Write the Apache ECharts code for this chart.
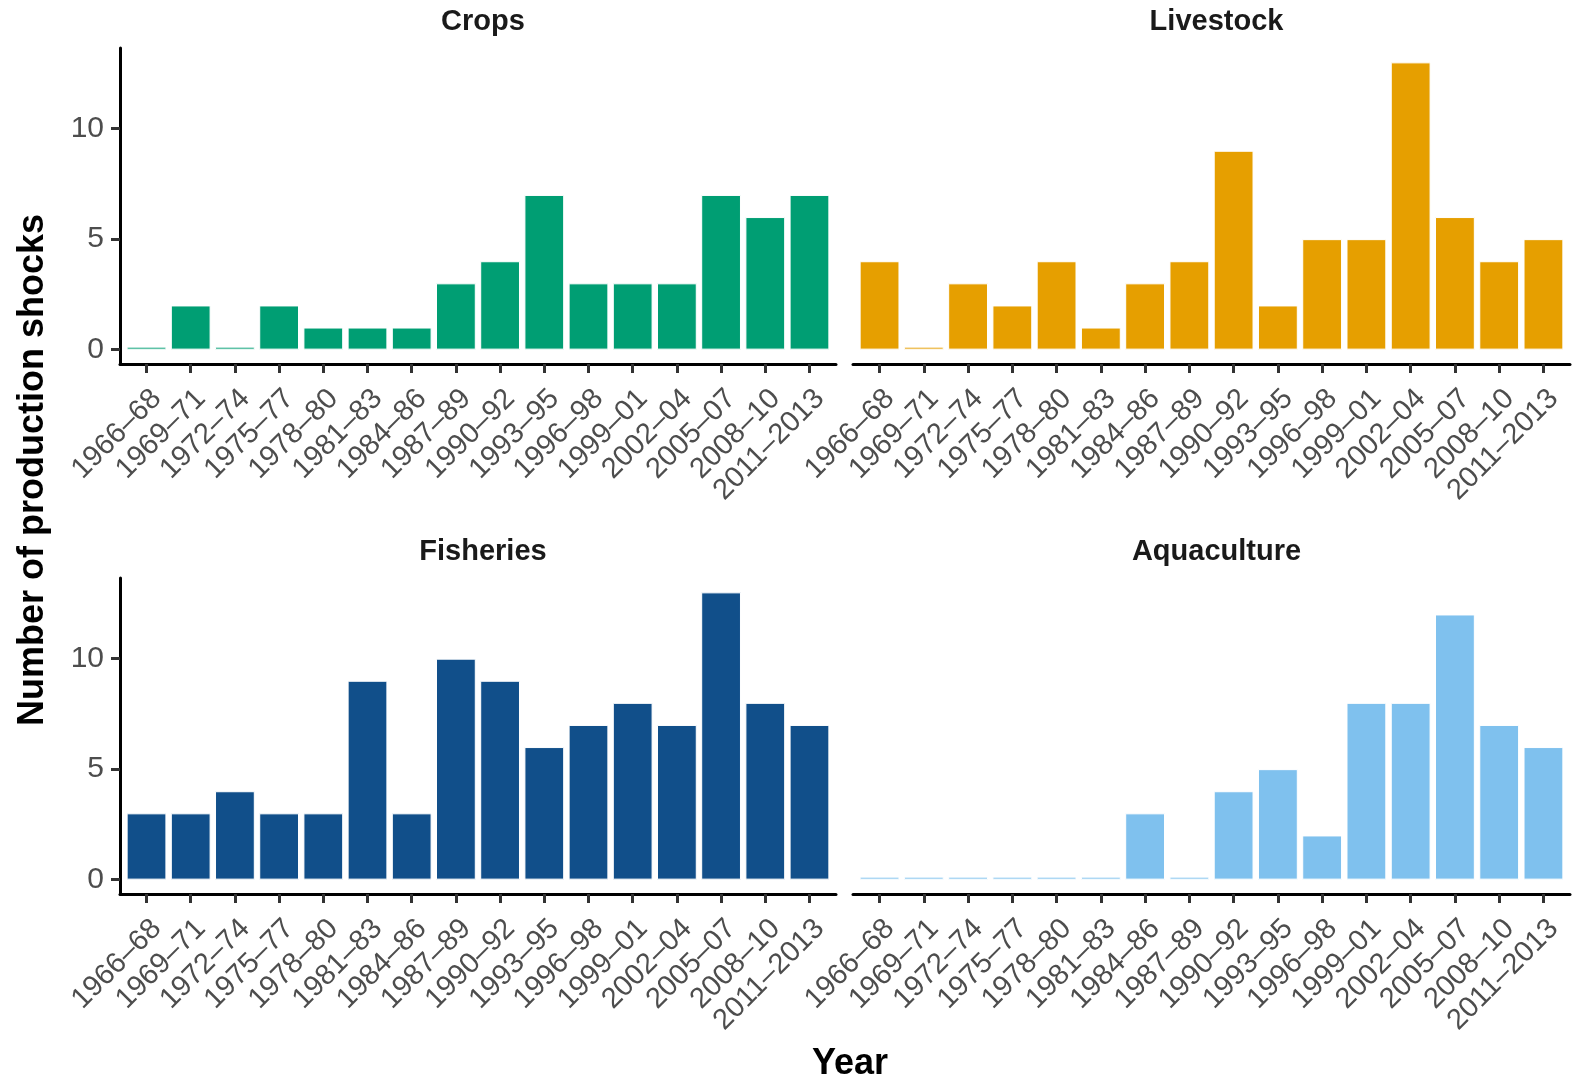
<!DOCTYPE html>
<html>
<head>
<meta charset="utf-8">
<script src="https://cdn.jsdelivr.net/npm/echarts@6/dist/echarts.min.js"></script>
<style>
html,body{margin:0;padding:0;background:#fff;}
#chart{width:1575px;height:1081px;}
</style>
</head>
<body>
<div id="chart"></div>
<script>
const categories = ["1966–68","1969–71","1972–74","1975–77","1978–80","1981–83","1984–86","1987–89","1990–92","1993–95","1996–98","1999–01","2002–04","2005–07","2008–10","2011–2013"];
const panelTitles = ["Crops","Livestock","Fisheries","Aquaculture"];
const crops = [0,2,0,2,1,1,1,3,4,7,3,3,3,7,6,7];
const livestock = [4,0,3,2,4,1,3,4,9,2,5,5,13,6,4,5];
const fisheries = [3,3,4,3,3,9,3,10,9,6,7,8,7,13,8,7];
const aquaculture = [0,0,0,0,0,0,3,0,4,5,2,8,8,12,7,6];
const yTicks = [0,5,10];
const colors = ["#009E73","#E69F00","#114F8A","#7FC1EE"];
const seriesData = [crops, livestock, fisheries, aquaculture];

const FONT = "'Liberation Sans', Arial, sans-serif";
const chart = echarts.init(document.getElementById('chart'));

const panels = [
  {left:120, top:48, width:716, height:316, showY:true},
  {left:853, top:48, width:717, height:316, showY:false},
  {left:120, top:578, width:716, height:316, showY:true},
  {left:853, top:578, width:717, height:316, showY:false}
];
const yMin = -0.65, yMax = 13.65;

const grid = [], xAxis = [], yAxis = [], series = [], title = [];
panels.forEach((p, i) => {
  const u = p.width / (categories.length + 0.2);
  grid.push({left:p.left, top:p.top, width:p.width, height:p.height});
  grid.push({left:p.left + 0.1*u, top:p.top, width:p.width - 0.2*u, height:p.height});
  const go = 2*i, gi = 2*i+1;
  xAxis.push({gridIndex:go, type:'value', min:0, max:1,
    axisLine:{show:true, onZero:false, lineStyle:{color:'#000', width:3}},
    axisTick:{show:false}, axisLabel:{show:false}, splitLine:{show:false}});
  yAxis.push({gridIndex:go, type:'value', min:yMin, max:yMax, show:p.showY,
    axisLine:{show:p.showY, onZero:false, lineStyle:{color:'#000', width:3}},
    axisTick:{show:p.showY, length:9, lineStyle:{color:'#333', width:3}, customValues:yTicks},
    axisLabel:{show:p.showY, customValues:yTicks, fontSize:30, color:'#4d4d4d', fontFamily:FONT, margin:16},
    splitLine:{show:false}});
  xAxis.push({gridIndex:gi, type:'category', data:categories, boundaryGap:true,
    axisLine:{show:false, onZero:false},
    axisTick:{show:true, alignWithLabel:true, length:9, lineStyle:{color:'#333', width:3}},
    axisLabel:{show:true, interval:0, rotate:45, fontSize:29, color:'#4d4d4d', fontFamily:FONT,
      margin:20, verticalAlign:'top'},
    splitLine:{show:false}});
  yAxis.push({gridIndex:gi, type:'value', min:yMin, max:yMax, show:false, splitLine:{show:false}});
  series.push({type:'bar', xAxisIndex:2*i+1, yAxisIndex:2*i+1, data:seriesData[i],
    barWidth:'90%', barMinHeight:3,
    itemStyle:{color:colors[i], borderColor:'#fff', borderWidth:1}, silent:true});
  title.push({text:panelTitles[i], left:p.left + p.width/2, top:p.top - 46, textAlign:'center',
    textStyle:{fontSize:29, fontWeight:'bold', color:'#1a1a1a', fontFamily:FONT}});
});

title.push({text:'Year', left:845, top:1041, textAlign:'center',
  textStyle:{fontSize:36, fontWeight:'bold', color:'#000', fontFamily:FONT}});

chart.setOption({
  animation:false,
  backgroundColor:'#fff',
  title:title,
  grid:grid,
  xAxis:xAxis,
  yAxis:yAxis,
  series:series,
  graphic:[{type:'text', rotation:Math.PI/2, x:33, y:470,
    style:{text:'Number of production shocks', fontSize:36, fontWeight:'bold', fill:'#000',
      fontFamily:FONT, align:'center', verticalAlign:'middle'}}]
});
</script>
</body>
</html>
